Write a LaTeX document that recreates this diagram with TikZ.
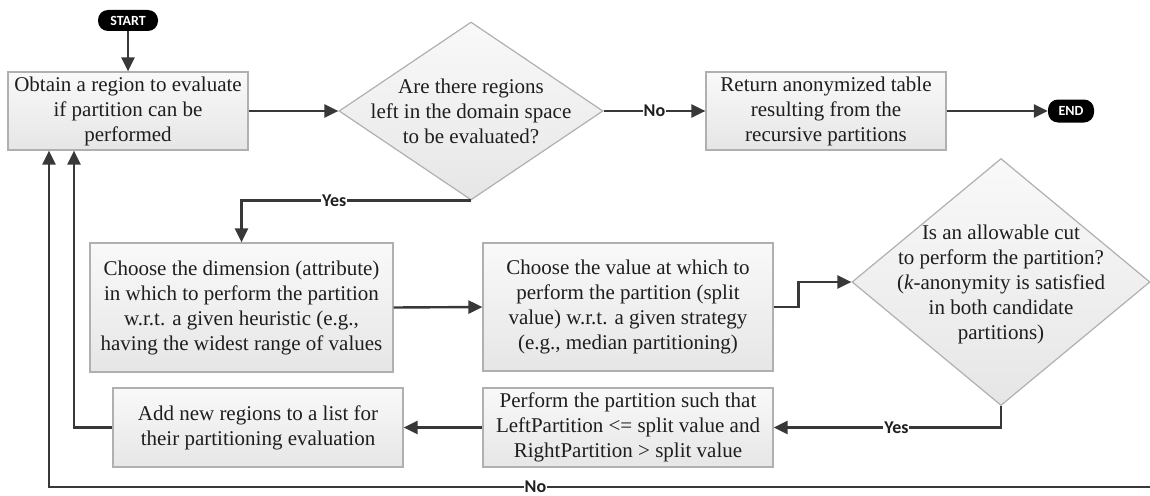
\documentclass[tikz,border=0pt]{standalone}
\usepackage{fontspec}
\setmainfont{Liberation Serif}
\newfontfamily\boxfont{Liberation Serif}
\newfontfamily\labfont{Carlito}
\usetikzlibrary{shapes.geometric,arrows.meta}
\definecolor{linec}{HTML}{383838}
\definecolor{boxline}{HTML}{B0B0B0}
\definecolor{txt}{HTML}{1E1E1E}
\definecolor{boxtop}{HTML}{F9F9F9}
\definecolor{boxbot}{HTML}{E6E6E6}
\begin{document}
\begin{tikzpicture}[x=1pt,y=-1pt,
  procbox/.style={rectangle, draw=boxline, line width=1.2pt, top color=boxtop, bottom color=boxbot,
    inner sep=0pt, align=center, text=txt, font=\boxfont\fontsize{21}{25}\selectfont},
  decbox/.style={diamond, draw=boxline, line width=1.2pt, top color=boxtop, bottom color=boxbot,
    inner sep=0pt},
  dectext/.style={align=center, text=txt, inner sep=0pt, font=\boxfont\fontsize{21}{25}\selectfont},
  pill/.style={rectangle, rounded corners=10pt, fill=black, text=white, inner sep=0pt,
    font=\labfont\bfseries\fontsize{14}{14}\selectfont},
  conn/.style={draw=linec, line width=2.4pt, -{Triangle[length=14pt,width=13pt]}},
  lab/.style={fill=white, inner sep=1pt, text=black!88, font=\labfont\bfseries\fontsize{18}{18}\selectfont}]
\useasboundingbox (0,0) rectangle (1150,495);

\node[pill, minimum width=60pt, minimum height=21pt] (start) at (128,20.5) {START};
\node[procbox, minimum width=240pt, minimum height=78pt] (b1) at (128,111)
  {Obtain a region to evaluate\\if partition can be\\performed};
\node[decbox, minimum width=264pt, minimum height=178pt] (d1) at (471,111) {};
\node[dectext] (d1t) at (471,111) {Are there regions\\left in the domain space\\to be evaluated?};
\node[procbox, minimum width=240pt, minimum height=78pt] (b2) at (826,111)
  {Return anonymized table\\resulting from the\\recursive partitions};
\node[pill, minimum width=46pt, minimum height=23pt] (end) at (1071,111) {END};

\node[procbox, minimum width=303pt, minimum height=129pt] (b3) at (241.5,307.5)
  {Choose the dimension (attribute)\\in which to perform the partition\\w.r.t. a given heuristic (e.g.,\\having the widest range of values};
\node[procbox, minimum width=290pt, minimum height=128pt] (b4) at (628,307)
  {Choose the value at which to\\perform the partition (split\\value) w.r.t. a given strategy\\(e.g., median partitioning)};
\node[decbox, minimum width=298pt, minimum height=247pt] (d2) at (1001,282) {};
\node[dectext] (d2t) at (1001,284) {Is an allowable cut\\to perform the partition?\\(\textit{k}-anonymity is satisfied\\in both candidate\\partitions)};

\node[procbox, minimum width=290pt, minimum height=79pt] (b5) at (628,427.5)
  {Perform the partition such that\\LeftPartition <= split value and\\RightPartition > split value};
\node[procbox, minimum width=290pt, minimum height=79pt] (b6) at (258,427.5)
  {Add new regions to a list for\\their partitioning evaluation};

\coordinate (cR) at (1157,487);
\coordinate (cL) at (49,487);

\draw[conn] (start.south) -- (b1.north);
\draw[conn] (b1.east) -- (d1.west);
\draw[conn] (d1.east) -- node[lab]{No} (b2.west);
\draw[conn] (b2.east) -- (end.west);
\draw[conn] (d1.south) -- node[lab,pos=0.596]{Yes} (d1.south -| b3.north) -- (b3.north);
\draw[conn] (b3.east) -- (b4.west);
\draw[conn] (b4.east) -- ++(25,0) |- (d2.west);
\draw[conn] (d2.south) |- node[lab,pos=0.73]{Yes} (b5.east);
\draw[conn] (b5.west) -- (b6.east);
\draw[conn] (b6.west) -| ([xshift=-54pt]b1.south);
\draw[conn] (d2.east) -| (cR) -- node[lab,pos=0.561]{No} (cL) -- ([xshift=-79pt]b1.south);
\end{tikzpicture}
\end{document}
